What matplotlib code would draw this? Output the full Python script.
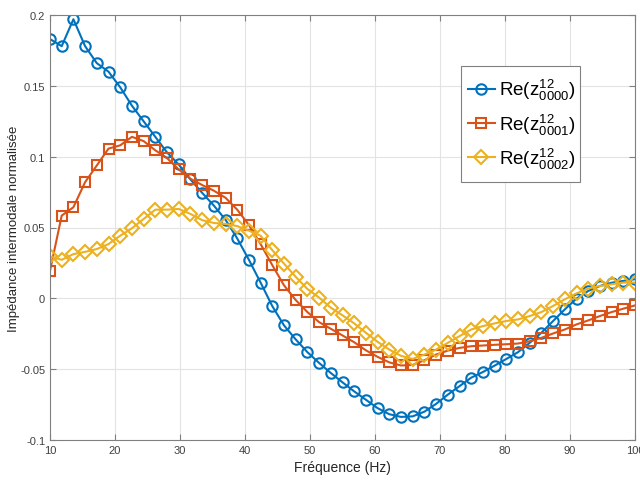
import matplotlib
matplotlib.use("Agg")
import matplotlib.pyplot as plt
from matplotlib.patches import Rectangle
from matplotlib.ticker import FormatStrFormatter

plt.rcParams['font.family'] = ['Liberation Sans', 'DejaVu Sans']

# frequency grid (Hz), one point every 1.8 Hz
freq = [10.0, 11.8, 13.6, 15.4, 17.2, 19.0, 20.8, 22.6, 24.4, 26.2,
        28.0, 29.8, 31.6, 33.4, 35.2, 37.0, 38.8, 40.6, 42.4, 44.2,
        46.0, 47.8, 49.6, 51.4, 53.2, 55.0, 56.8, 58.6, 60.4, 62.2,
        64.0, 65.8, 67.6, 69.4, 71.2, 73.0, 74.8, 76.6, 78.4, 80.2,
        82.0, 83.8, 85.6, 87.4, 89.2, 91.0, 92.8, 94.6, 96.4, 98.2, 100.0]

re_z0000 = [0.183, 0.178, 0.197, 0.178, 0.166, 0.160, 0.149, 0.136, 0.125, 0.114,
            0.103, 0.0945, 0.0840, 0.0745, 0.0655, 0.0555, 0.0423, 0.0272, 0.0111, -0.0055,
            -0.0191, -0.029, -0.038, -0.0456, -0.0527, -0.0593, -0.0657, -0.0716, -0.0775, -0.0818,
            -0.0837, -0.0833, -0.080, -0.0745, -0.068, -0.062, -0.056, -0.052, -0.0475, -0.0428,
            -0.038, -0.0314, -0.0243, -0.016, -0.0078, -0.0002, 0.0052, 0.0087, 0.011, 0.0123, 0.0135]

re_z0001 = [0.0194, 0.0584, 0.0643, 0.082, 0.0938, 0.1057, 0.108, 0.114, 0.111, 0.1045,
            0.099, 0.091, 0.0844, 0.080, 0.076, 0.071, 0.0626, 0.0518, 0.0383, 0.0234,
            0.0092, -0.0012, -0.0097, -0.0168, -0.0215, -0.0262, -0.031, -0.0367, -0.0413, -0.0452,
            -0.0474, -0.047, -0.0437, -0.0397, -0.0369, -0.035, -0.0338, -0.0333, -0.0328, -0.0324,
            -0.0319, -0.0303, -0.0279, -0.0248, -0.022, -0.0184, -0.0156, -0.0125, -0.0097, -0.0073, -0.005]

re_z0002 = [0.0296, 0.0272, 0.0312, 0.0328, 0.0348, 0.0383, 0.0442, 0.0494, 0.056, 0.0626,
            0.0626, 0.0631, 0.0596, 0.0552, 0.0532, 0.0525, 0.051, 0.0478, 0.0442, 0.034,
            0.0245, 0.0152, 0.0066, 0.0005, -0.0066, -0.012, -0.0177, -0.0243, -0.0307, -0.0362,
            -0.0406, -0.0428, -0.0397, -0.0362, -0.0314, -0.0267, -0.022, -0.0196, -0.0177, -0.016,
            -0.0149, -0.0125, -0.0097, -0.0054, -0.0007, 0.0035, 0.0069, 0.0087, 0.0099, 0.0111, 0.0111]

labels = [r'Re($\mathregular{z^{12}_{0000}}$)',
          r'Re($\mathregular{z^{12}_{0001}}$)',
          r'Re($\mathregular{z^{12}_{0002}}$)']

fig = plt.figure(figsize=(6.4, 4.81), dpi=100)
ax = fig.add_axes([50/640, 1 - 441/481, 585/640, 425/481])

ax.plot(freq, re_z0000, '-o', color='#0072BD', lw=1.5, ms=7.5, mew=1.5,
        mfc='none', label=labels[0])
ax.plot(freq, re_z0001, '-s', color='#D95319', lw=1.5, ms=7, mew=1.5,
        mfc='none', label=labels[1])
ax.plot(freq, re_z0002, '-D', color='#EDB120', lw=1.5, ms=7, mew=1.5,
        mfc='none', label=labels[2])

ax.set_xlim(10, 100)
ax.set_ylim(-0.1, 0.2)
ax.set_xticks(range(10, 101, 10))
ax.set_yticks([-0.1, -0.05, 0, 0.05, 0.1, 0.15, 0.2])
ax.yaxis.set_major_formatter(FormatStrFormatter('%g'))

ax.grid(True, color='#e3e3e3', linewidth=0.8)
ax.set_axisbelow(True)
for s in ax.spines.values():
    s.set_color('#808080')
    s.set_linewidth(0.8)
ax.tick_params(direction='in', top=True, right=True, length=4,
               color='#808080', labelcolor='#404040', labelsize=8)

ax.set_xlabel('Fréquence (Hz)', fontsize=10, color='#262626')
ax.set_ylabel('Impédance intermodale normalisée', fontsize=9.5, color='#262626')
ax.yaxis.set_label_coords(-30/585, 0.5)

# legend box drawn by hand so the padding matches (MATLAB style)
bx0, bx1 = 411/585, 530/585
by0, by1 = 258/425, 374/425
ax.add_patch(Rectangle((bx0, by0), bx1 - bx0, by1 - by0, transform=ax.transAxes,
                       facecolor='white', edgecolor='#808080', lw=0.8, zorder=4))
leg = ax.legend(loc='center', bbox_to_anchor=((bx0 + bx1) / 2 + 1/585, (by0 + by1) / 2),
                fontsize=13.5, frameon=False, handlelength=1.45, handletextpad=0.2,
                borderpad=0, labelspacing=0.5, borderaxespad=0)
leg.set_zorder(5)

fig.savefig('out.png', dpi=100)
